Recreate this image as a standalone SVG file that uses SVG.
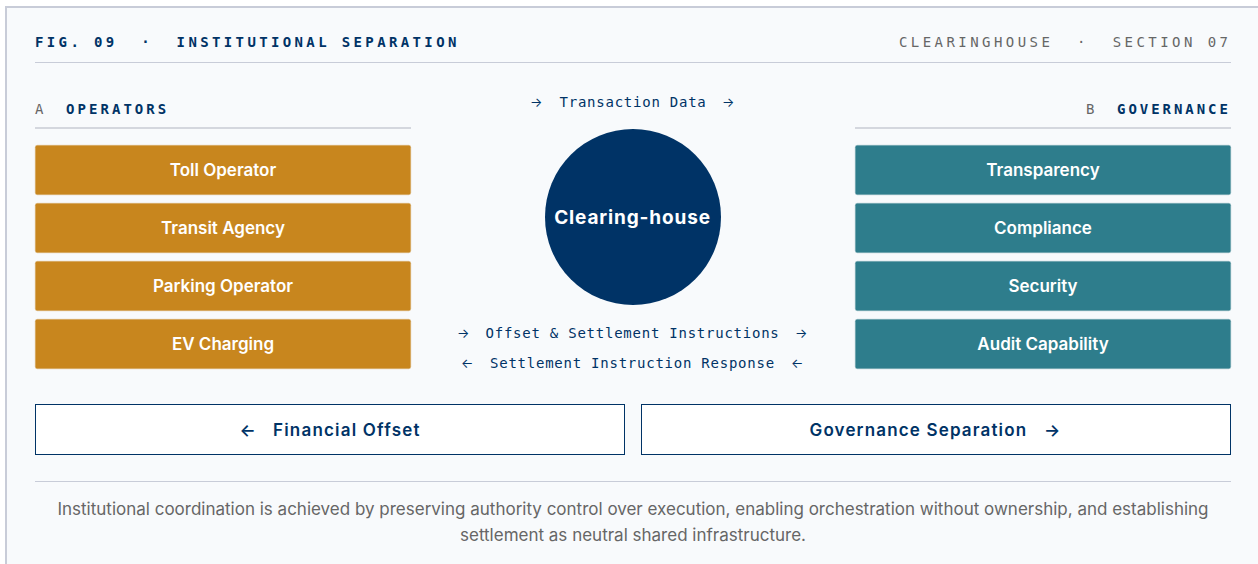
<svg xmlns="http://www.w3.org/2000/svg" width="1258" height="564" viewBox="0 0 1258 564">
<style>
.m{font-family:"DejaVu Sans Mono","Liberation Mono",monospace}
.i{font-family:Inter,"Noto Sans",sans-serif}
.a{fill:#c8861e;stroke:#d9b57a;stroke-width:.5}.t{fill:#2e7d8c;stroke:#8db5bd;stroke-width:.5}
.n{font-size:17px;font-weight:600;fill:#fff;text-anchor:middle}
.l{font-size:14px;fill:#003366;letter-spacing:.76px}
.r{font-family:Inter,"Noto Sans",sans-serif;font-size:13px;letter-spacing:0}
.w{fill:#fff;stroke:#003366;stroke-width:1}
</style>
<rect width="1258" height="564" fill="#fff"/>
<rect x="6" y="7" width="1254" height="559" fill="#f8fafc" stroke="#c8ccd8" stroke-width="2"/>
<g id="header">
<text class="m" x="35" y="47" font-size="14" font-weight="700" fill="#003366" letter-spacing="3.37" xml:space="preserve">FIG. 09  ·  INSTITUTIONAL SEPARATION</text>
<text class="m" x="1231.500" y="47" font-size="14" fill="#666" letter-spacing="3.45" text-anchor="end" xml:space="preserve">CLEARINGHOUSE  ·  SECTION 07</text>
<rect x="35" y="62" width="1196" height="1" fill="#c8ccd8"/>
</g>
<g id="labels">
<text class="m" x="35" y="114" font-size="14" fill="#666" letter-spacing="2.8">A</text>
<text class="m" x="66" y="114" font-size="14" font-weight="700" fill="#003366" letter-spacing="3.05">OPERATORS</text>
<rect x="35" y="127" width="376" height="2" fill="#d4d7de"/>
<text class="m" x="1086" y="114" font-size="14" fill="#666" letter-spacing="2.8">B</text>
<text class="m" x="1117" y="114" font-size="14" font-weight="700" fill="#003366" letter-spacing="2.95">GOVERNANCE</text>
<rect x="855" y="127" width="376" height="2" fill="#d4d7de"/>
</g>
<g id="toll"><rect class="a" x="35.250" y="145.250" width="375.500" height="49.500" rx="2"/><text class="i n" x="223" y="176">Toll Operator</text></g>
<g id="transit"><rect class="a" x="35.250" y="203.250" width="375.500" height="49.500" rx="2"/><text class="i n" x="223" y="234">Transit Agency</text></g>
<g id="parking"><rect class="a" x="35.250" y="261.250" width="375.500" height="49.500" rx="2"/><text class="i n" x="223" y="292">Parking Operator</text></g>
<g id="ev"><rect class="a" x="35.250" y="319.250" width="375.500" height="49.500" rx="2"/><text class="i n" x="223" y="350">EV Charging</text></g>
<g id="transparency"><rect class="t" x="855.250" y="145.250" width="375.500" height="49.500" rx="2"/><text class="i n" x="1043" y="176">Transparency</text></g>
<g id="compliance"><rect class="t" x="855.250" y="203.250" width="375.500" height="49.500" rx="2"/><text class="i n" x="1043" y="234">Compliance</text></g>
<g id="security"><rect class="t" x="855.250" y="261.250" width="375.500" height="49.500" rx="2"/><text class="i n" x="1043" y="292">Security</text></g>
<g id="audit"><rect class="t" x="855.250" y="319.250" width="375.500" height="49.500" rx="2"/><text class="i n" x="1043" y="350">Audit Capability</text></g>
<g id="clearing"><circle cx="633" cy="217" r="88" fill="#003366"/><text class="i" x="632.500" y="224" font-size="19" font-weight="700" fill="#fff" letter-spacing=".85" text-anchor="middle">Clearing-house</text></g>
<g id="connectors">
<text class="m l" y="107"><tspan class="r" x="530">→</tspan><tspan x="559.500">Transaction Data</tspan><tspan class="r" x="722">→</tspan></text>
<text class="m l" y="338"><tspan class="r" x="457">→</tspan><tspan x="485.500">Offset &amp; Settlement Instructions</tspan><tspan class="r" x="795">→</tspan></text>
<text class="m l" y="368"><tspan class="r" x="461">←</tspan><tspan x="490">Settlement Instruction Response</tspan><tspan class="r" x="791">←</tspan></text>
</g>
<g id="offset"><rect class="w" x="35.500" y="404.500" width="589" height="50"/><text class="i" y="436" font-size="17" font-weight="600" fill="#003366" letter-spacing="1.2"><tspan x="239.500">←</tspan><tspan x="273">Financial Offset</tspan></text></g>
<g id="separation"><rect class="w" x="641.500" y="404.500" width="589" height="50"/><text class="i" y="436" font-size="17" font-weight="600" fill="#003366" letter-spacing="1.16"><tspan x="809.500">Governance Separation</tspan><tspan x="1044">→</tspan></text></g>
<g id="footer">
<rect x="35" y="481" width="1196" height="1" fill="#c8ccd8"/>
<text class="i" x="633" y="515" font-size="17" fill="#666" text-anchor="middle">Institutional coordination is achieved by preserving authority control over execution, enabling orchestration without ownership, and establishing</text>
<text class="i" x="633" y="541" font-size="17" fill="#666" text-anchor="middle">settlement as neutral shared infrastructure.</text>
</g>
</svg>
